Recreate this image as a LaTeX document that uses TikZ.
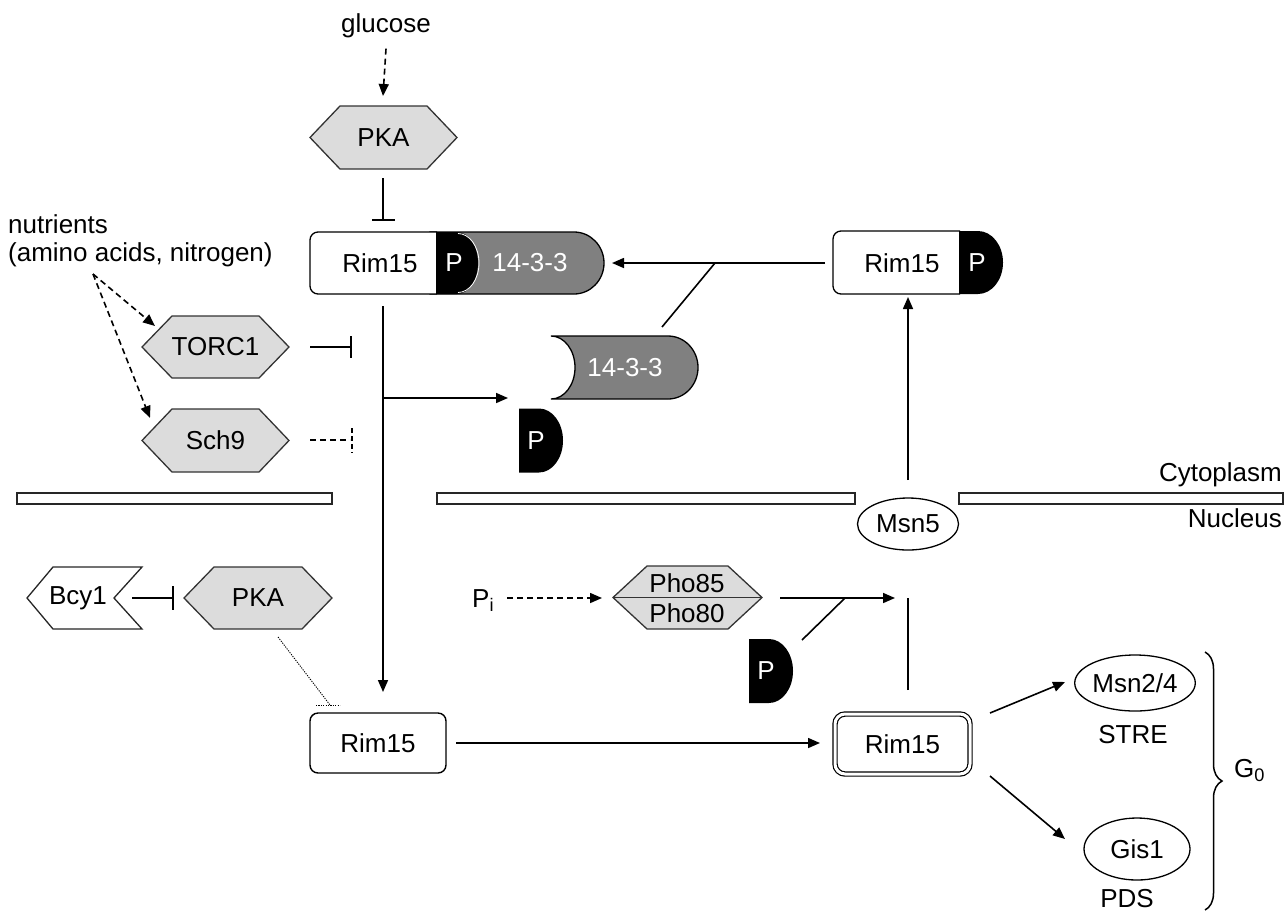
\documentclass[tikz,border=0pt]{standalone}
\usepackage{fontspec}
\setmainfont{Liberation Sans}
\usetikzlibrary{arrows.meta,decorations.pathreplacing,shapes.geometric,calc}
\definecolor{hexg}{HTML}{DCDCDC}
\definecolor{dkg}{HTML}{808080}
\newcommand\hexa[7]{%
  \draw[hexst] ({#2-#4},#3) -- ({#2-#4+#6},{#3-#5}) -- ({#2+#4-#6},{#3-#5}) -- ({#2+#4},#3) -- ({#2+#4-#6},{#3+#5}) -- ({#2-#4+#6},{#3+#5}) -- cycle;
  \node (#1) at (#2,#3) {#7};}
\newcommand\pshape[3]{%
  \fill[black] (#2,{#3-32}) -- ({#2+20},{#3-32}) arc[start angle=-90,end angle=90,x radius=24,y radius=32] -- (#2,{#3+32}) -- cycle;
  \node[wl] (#1) at ({#2+17},#3) {P};}
\begin{document}
\begin{tikzpicture}[x=1pt,y=-1pt,
  every node/.style={font=\fontsize{26}{29}\selectfont, inner sep=0pt},
  wl/.style={text=white},
  ln/.style={line width=1.6pt},
  arr/.style={ln,-{Triangle[length=12pt,width=10pt]}},
  inh/.style={ln,-{Bar[width=24pt]}},
  dsh/.style={dash pattern=on 6pt off 4pt},
  hexst/.style={fill=hexg,draw=black!80,line width=1.3pt},
  mem/.style={fill=white,draw=black!85,line width=1.3pt},
  box/.style={draw,fill=white,rounded corners=8pt,line width=1.4pt,minimum width=136pt,minimum height=60pt},
  ell/.style={draw,ellipse,line width=1.3pt},
  dotl/.style={line width=0.9pt,dash pattern=on 1.2pt off 1.2pt}]
\useasboundingbox (0,0) rectangle (1284,911);

% membranes
\draw[mem] (17,493) rectangle (332,504);
\draw[mem] (437,493) rectangle (855,504);
\draw[mem] (959,493) rectangle (1283,504);
\node[anchor=base east] (cyto) at (1282,481) {Cytoplasm};
\node[anchor=base east] (nucl) at (1282,527) {Nucleus};

% top
\node[anchor=base] (glucose) at (386,32) {glucose};
\hexa{pkaT}{383.5}{137.5}{73.5}{31.5}{30}{PKA}
\node[anchor=base west] (nut1) at (8,233) {nutrients};
\node[anchor=base west] (nut2) at (8,261) {(amino acids, nitrogen)};
\hexa{torc}{215.5}{347}{73.5}{31}{30}{TORC1}
\hexa{sch}{215.5}{440.5}{73.5}{31.5}{30}{Sch9}

% complex Rim15-P-14-3-3
\filldraw[fill=dkg,draw=black,line width=1.3pt] (430,232) -- (574,232) arc[start angle=-90,end angle=90,x radius=30,y radius=31] -- (430,294) -- cycle;
\filldraw[fill=white,draw=black,line width=1.3pt,rounded corners=8pt] (437,232) -- (310,232) -- (310,294) -- (437,294);
\fill[black] (436,232) -- (457,232) arc[start angle=-90,end angle=90,x radius=21,y radius=31] -- (436,294) -- cycle;
\draw[white,line width=0.8pt] (458,233.5) arc[start angle=-90,end angle=90,x radius=21,y radius=29.5];
\node (cRim) at (380,263) {Rim15};
\node[wl] (cP) at (454,263) {P};
\node[wl] (c1433) at (530,263) {14-3-3};

% right Rim15-P
\filldraw[fill=white,draw=black,line width=1.3pt,rounded corners=8pt] (960,231) -- (833,231) -- (833,294) -- (960,294);
\fill[black] (959,231) -- (978,231) arc[start angle=-90,end angle=90,x radius=25,y radius=31.5] -- (959,294) -- cycle;
\node (rRim) at (902,263) {Rim15};
\node[wl] (rP) at (977,263) {P};

% free 14-3-3 and P
\filldraw[fill=dkg,draw=black,line width=1.3pt] (551,336) -- (668,336) arc[start angle=-90,end angle=90,x radius=30,y radius=31.5] -- (551,399) arc[start angle=90,end angle=-90,x radius=24,y radius=31.5] -- cycle;
\node[wl] (f1433) at (625,368) {14-3-3};
\pshape{fP1}{519}{440.5}

% nucleus
\draw[fill=white,draw=black!85,line width=1.3pt] (27,598) -- (53,567) -- (142,567) -- (114,598) -- (142,629) -- (53,629) -- cycle;
\node (bcy) at (78,598) {Bcy1};
\hexa{pkaL}{258}{598}{74}{31}{30}{PKA}
\hexa{pho}{687.5}{597.5}{74.5}{31.5}{34}{}
\draw[line width=1.2pt,black!80] (613,597.5) -- (762,597.5);
\node (pho85) at (687,583) {Pho85};
\node (pho80) at (687,613) {Pho80};
\node[anchor=base west] (pi) at (472,607) {P\textsubscript{i}};
\pshape{fP2}{749}{671}
\node[ell,minimum width=101pt,minimum height=52pt] (msn5) at (908,524) {Msn5};
\node[box] (rimL) at (378,743) {Rim15};
\node[box,double,double distance=3pt,line width=1.2pt,minimum width=135pt,minimum height=60pt,rounded corners=10pt] (rimD) at (902.5,744) {Rim15};
\node[ell,minimum width=104pt,minimum height=56pt] (msn24) at (1135,683) {Msn2/4};
\node (stre) at (1133,735) {STRE};
\node[ell,minimum width=106pt,minimum height=62pt] (gis1) at (1137,849) {Gis1};
\node (pds) at (1127,899) {PDS};
\node[anchor=base west] (g0) at (1234,777) {G\textsubscript{0}};

% coordinates for connector ends
\coordinate (gEnd) at (383,96);
\coordinate (pkaTb) at (383,178);
\coordinate (cTop) at (383,221);
\coordinate (cBot) at (383,306);
\coordinate (rimLtop) at (383,692);
\coordinate (br1) at (383,398);
\coordinate (br1e) at (508,398);
\coordinate (nut) at (93,274);
\coordinate (torcE) at (155,326);
\coordinate (schE) at (150,418);
\coordinate (torcR) at (310,347);
\coordinate (torcI) at (352,347);
\coordinate (schR) at (310,440);
\coordinate (schI) at (350,440);
\coordinate (rRimL) at (825,263);
\coordinate (cEnd) at (612,263);
\coordinate (j1) at (715,263);
\coordinate (f1433t) at (662,327);
\coordinate (msnUp) at (908,480);
\coordinate (rRimB) at (908,297);
\coordinate (msnLo) at (908,598);
\coordinate (rimDt) at (908,690);
\coordinate (piE) at (507,598);
\coordinate (phoL) at (602,598);
\coordinate (phoR) at (780,598);
\coordinate (phoE) at (895,598);
\coordinate (j2) at (845,598);
\coordinate (fP2t) at (802,640);
\coordinate (bcyR) at (132,598);
\coordinate (pkaLl) at (174,598);
\coordinate (pkaLb) at (278,637);
\coordinate (dotE) at (330,705);
\coordinate (rimLr) at (456,743);
\coordinate (rimDl) at (820,743);
\coordinate (d1) at (990,713);
\coordinate (d1e) at (1065,682);
\coordinate (d2) at (990,776);
\coordinate (d2e) at (1065,839);

% connectors
\draw[arr,dsh] (glucose.south) ++(0,11) -- (gEnd);
\draw[inh,-{Bar[width=23pt]}] (pkaTb) -- (cTop);
\draw[arr,dsh] (nut) -- (torcE);
\draw[arr,dsh] (nut) -- (schE);
\draw[ln,-{Bar[width=22pt]}] (torcR) -- (torcI);
\draw[ln,dsh] (schR) -- (schI);
\draw[ln,dash pattern=on 5pt off 3pt] (352,428) -- (352,453);
\draw[arr] (cBot) -- (rimLtop);
\draw[arr] (br1) -- (br1e);
\draw[arr] (rRimL) -- (cEnd);
\draw[ln] (j1) -- (f1433t);
\draw[arr] (msnUp) -- (rRimB);
\draw[ln] (rimDt) -- (msnLo);
\draw[arr,dsh] (piE) -- (phoL);
\draw[arr] (phoR) -- (phoE);
\draw[ln] (j2) -- (fP2t);
\draw[ln,-{Bar[width=24pt]}] (bcyR) -- (pkaLl);
\draw[dotl] (pkaLb) -- (dotE);
\draw[dotl] (316,705) -- (340,705);
\draw[arr] (rimLr) -- (rimDl);
\draw[arr] (d1) -- (d1e);
\draw[arr] (d2) -- (d2e);
\draw[line width=1.5pt,decorate,decoration={brace,amplitude=17pt}] (1205,652) -- (1205,910);
\end{tikzpicture}
\end{document}
